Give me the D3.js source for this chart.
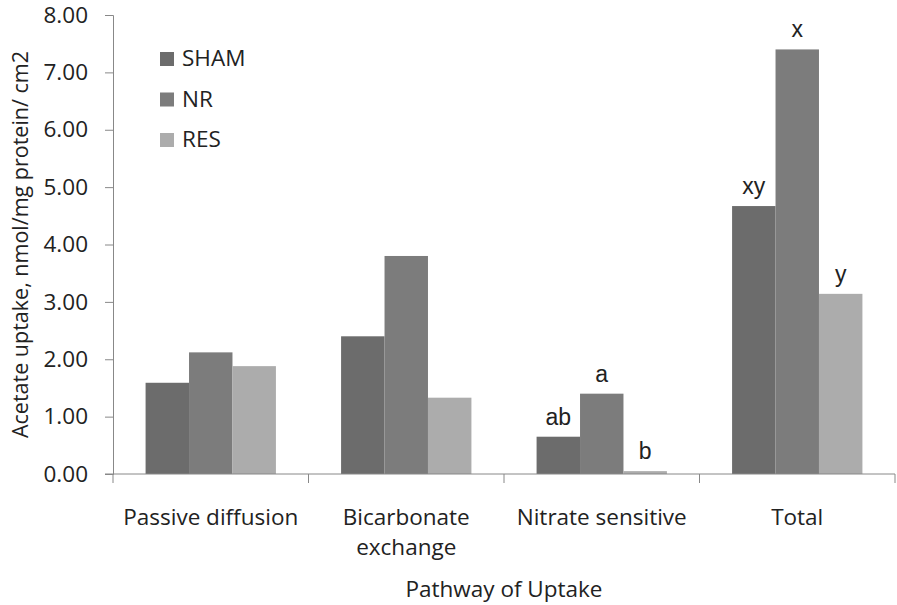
<!DOCTYPE html>
<html>
<head>
<meta charset="utf-8">
<script src="https://cdn.jsdelivr.net/npm/d3@7"></script>
<style>
  html, body { margin: 0; padding: 0; background: #fff; }
  svg { display: block; }
</style>
</head>
<body>
<svg id="chart" width="897" height="605"></svg>
<script>
// Acetate uptake by pathway and treatment group
const categories = ["Passive diffusion", "Bicarbonate exchange", "Nitrate sensitive", "Total"];
const categoryLines = [["Passive diffusion"], ["Bicarbonate", "exchange"], ["Nitrate sensitive"], ["Total"]];
const series = ["SHAM", "NR", "RES"];
const shamValues = [1.59, 2.40, 0.65, 4.67];
const nrValues = [2.12, 3.80, 1.40, 7.40];
const resValues = [1.88, 1.33, 0.05, 3.14];
const yTicks = [0, 1, 2, 3, 4, 5, 6, 7, 8];
// significance letters (category, series, letter)
const sigLabels = [
  ["Nitrate sensitive", "SHAM", "ab"],
  ["Nitrate sensitive", "NR", "a"],
  ["Nitrate sensitive", "RES", "b"],
  ["Total", "SHAM", "xy"],
  ["Total", "NR", "x"],
  ["Total", "RES", "y"]
];
const colors = ["#6c6c6c", "#7c7c7c", "#acacac"];

const valuesBySeries = { SHAM: shamValues, NR: nrValues, RES: resValues };
const rows = [];
categories.forEach((c, i) => series.forEach(s => rows.push({ cat: c, ser: s, value: valuesBySeries[s][i] })));

const svg = d3.select("#chart");
const axisColor = "#888";
const textFont = "'Open Sans', 'Noto Sans', sans-serif";
const textSize = "22.5px";

const x0 = d3.scaleBand().domain(categories).range([113, 895]);
const bw = x0.bandwidth();
const x1 = d3.scaleBand().domain(series).range([bw / 6, bw * 5 / 6]);
const y = d3.scaleLinear().domain([0, 8]).range([474, 15]);
const color = d3.scaleOrdinal().domain(series).range(colors);

// bars
svg.append("g").selectAll("rect").data(rows).join("rect")
  .attr("x", d => x0(d.cat) + x1(d.ser))
  .attr("y", d => y(d.value))
  .attr("width", x1.bandwidth())
  .attr("height", d => y(0) - y(d.value))
  .attr("fill", d => color(d.ser));

// y axis
const yAxis = svg.append("g").attr("transform", "translate(113,0)")
  .call(d3.axisLeft(y).tickValues(yTicks).tickFormat(d3.format(".2f")).tickSize(8).tickPadding(17));
yAxis.select(".domain").attr("stroke", axisColor);
yAxis.selectAll(".tick line").attr("stroke", axisColor);
yAxis.selectAll(".tick text")
  .attr("fill", "#222").style("font-family", textFont).style("font-size", textSize);

// x axis baseline and category boundary ticks
const xg = svg.append("g");
xg.append("line")
  .attr("x1", 105).attr("x2", x0.range()[1])
  .attr("y1", y(0)).attr("y2", y(0))
  .attr("stroke", axisColor);
const bounds = categories.map(c => x0(c)).concat([x0.range()[1]]);
xg.selectAll(".bt").data(bounds).join("line")
  .attr("x1", d => d).attr("x2", d => d)
  .attr("y1", y(0)).attr("y2", y(0) + 9)
  .attr("stroke", axisColor);

// category labels
const catLabel = xg.selectAll(".cat").data(categories).join("text")
  .attr("x", d => x0(d) + bw / 2)
  .attr("y", 525)
  .attr("text-anchor", "middle")
  .attr("fill", "#222")
  .style("font-family", textFont).style("font-size", textSize);
catLabel.each(function (d, i) {
  d3.select(this).selectAll("tspan").data(categoryLines[i]).join("tspan")
    .attr("x", x0(d) + bw / 2)
    .attr("dy", (t, j) => j === 0 ? 0 : 30)
    .text(t => t);
});

// axis titles
svg.append("text")
  .attr("x", (x0.range()[0] + x0.range()[1]) / 2).attr("y", 597)
  .attr("text-anchor", "middle").attr("fill", "#222")
  .style("font-family", textFont).style("font-size", textSize)
  .text("Pathway of Uptake");
svg.append("text")
  .attr("transform", `translate(28,${(y(0) + y(8)) / 2}) rotate(-90)`)
  .attr("text-anchor", "middle").attr("fill", "#222")
  .style("font-family", textFont).style("font-size", "21.5px")
  .text("Acetate uptake, nmol/mg protein/ cm2");

// significance letters
const valueOf = (c, s) => valuesBySeries[s][categories.indexOf(c)];
svg.append("g").selectAll("text").data(sigLabels).join("text")
  .attr("x", d => x0(d[0]) + x1(d[1]) + x1.bandwidth() / 2)
  .attr("y", d => y(valueOf(d[0], d[1])) - 12)
  .attr("text-anchor", "middle").attr("fill", "#222")
  .style("font-family", "'Liberation Sans', Arial, sans-serif").style("font-size", "23px")
  .text(d => d[2]);

// legend
const legend = svg.append("g").selectAll("g").data(series).join("g")
  .attr("transform", (d, i) => `translate(160,${52 + i * 40.5})`);
legend.append("rect").attr("width", 14).attr("height", 14).attr("fill", d => color(d));
legend.append("text").attr("x", 22).attr("y", 14)
  .attr("fill", "#222").style("font-family", textFont).style("font-size", textSize)
  .text(d => d);
</script>
</body>
</html>
